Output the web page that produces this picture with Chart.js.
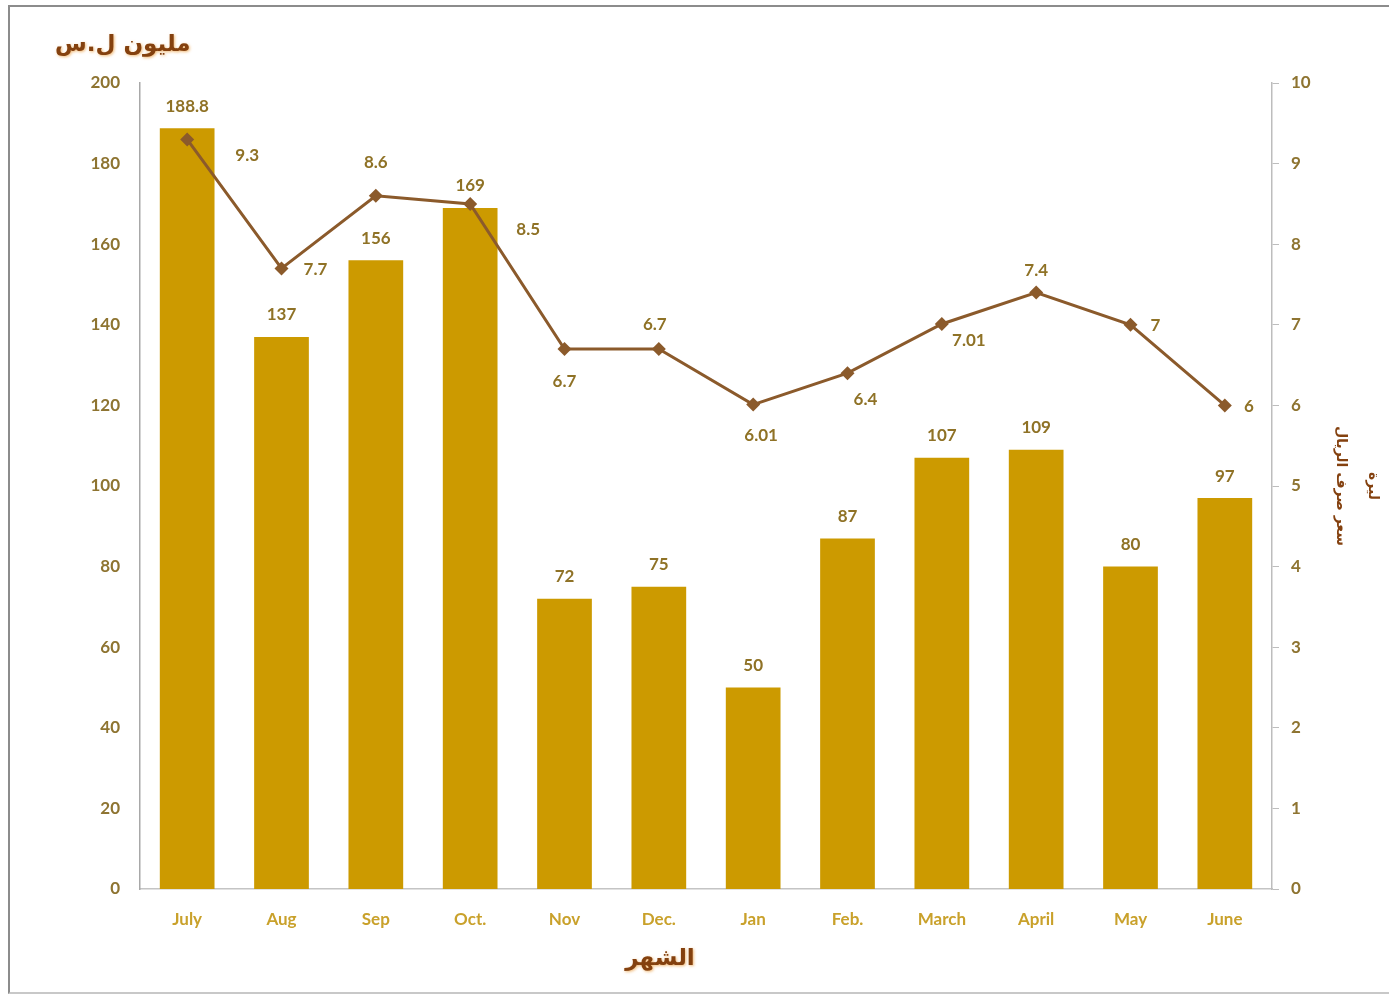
<!DOCTYPE html>
<html lang="ar">
<head>
<meta charset="utf-8">
<title>Monthly values and exchange rate</title>
<script src="https://cdn.jsdelivr.net/npm/chart.js@4.4.1/dist/chart.umd.min.js"></script>
<style>
  html, body { margin: 0; padding: 0; background: #fff; }
  #wrap { position: relative; width: 1389px; height: 994px; }
  #frame {
    position: absolute; left: 8px; top: 5px; width: 1400px; height: 985px;
    border-top: 2px solid #8c8c8c; border-left: 2px solid #8c8c8c; border-bottom: 2px solid #c8c8c8;
    pointer-events: none;
  }
</style>
</head>
<body>
<div id="wrap">
  <canvas id="chart" width="1389" height="994"></canvas>
  <div id="frame"></div>
</div>
<script>
// month labels along the bottom
const MONTHS = ['July', 'Aug', 'Sep', 'Oct.', 'Nov', 'Dec.', 'Jan', 'Feb.', 'March', 'April', 'May', 'June'];

// bars, left axis (million S.P.)
const AMOUNTS = [188.8, 137, 156, 169, 72, 75, 50, 87, 107, 109, 80, 97];

// line, right axis
const RATES = [9.3, 7.7, 8.6, 8.5, 6.7, 6.7, 6.01, 6.4, 7.01, 7.4, 7, 6];

// printed text for the line points (keeps 6.01 / 7.01 as written)
const RATE_TEXT = ['9.3', '7.7', '8.6', '8.5', '6.7', '6.7', '6.01', '6.4', '7.01', '7.4', '7', '6'];

// where each line value sits relative to its marker [dx, dy]
const RATE_LABEL_OFFSET = [
  [60, 16], [34, 1], [0, -33], [58, 26], [0, 33], [-4, -24],
  [8, 31], [18, 26], [27, 17], [0, -22], [25, 1], [24, 1],
];

const TITLE_LEFT = 'مليون ل.س';
const TITLE_BOTTOM = 'الشهر';
const TITLE_RIGHT = ['ليرة', 'سعر صرف الريال'];

const BAR_COLOR = '#cc9a00';
const LINE_COLOR = '#8b5a2b';
const VALUE_COLOR = '#8f7226';
const TICK_COLOR = '#8e7431';
const MONTH_COLOR = '#c9a12b';
const TITLE_COLOR = '#84410f';
const FONT = "Lato, 'Open Sans', sans-serif";
const ARABIC_FONT = "'DejaVu Sans', 'Noto Sans', sans-serif";

// writes the values above bars and next to line markers, plus the two axis captions
const valueLabels = {
  id: 'valueLabels',
  afterDatasetsDraw(chart) {
    const { ctx, chartArea } = chart;
    ctx.save();
    ctx.font = `bold 17px ${FONT}`;
    ctx.fillStyle = VALUE_COLOR;
    ctx.textAlign = 'center';
    ctx.textBaseline = 'middle';

    chart.getDatasetMeta(0).data.forEach((bar, i) => {
      ctx.fillText(String(AMOUNTS[i]), bar.x, bar.y - 22);
    });

    chart.getDatasetMeta(1).data.forEach((pt, i) => {
      const [dx, dy] = RATE_LABEL_OFFSET[i];
      ctx.fillText(RATE_TEXT[i], pt.x + dx, pt.y + dy);
    });

    // captions with a soft orange glow
    ctx.font = `bold 23px ${ARABIC_FONT}`;
    ctx.fillStyle = TITLE_COLOR;
    ctx.shadowColor = 'rgba(235, 160, 70, 0.75)';
    ctx.shadowBlur = 3;
    ctx.shadowOffsetX = 1;
    ctx.shadowOffsetY = 1;
    ctx.textAlign = 'left';
    ctx.fillText(TITLE_LEFT, 55, 45);
    ctx.textAlign = 'center';
    ctx.fillText(TITLE_BOTTOM, (chartArea.left + chartArea.right) / 2 - 46, 959);
    ctx.restore();
  },
};

new Chart(document.getElementById('chart'), {
  data: {
    labels: MONTHS,
    datasets: [
      {
        type: 'bar',
        data: AMOUNTS,
        yAxisID: 'y',
        backgroundColor: BAR_COLOR,
        barPercentage: 0.58,
        categoryPercentage: 1,
        order: 1,
      },
      {
        type: 'line',
        data: RATES,
        yAxisID: 'yRate',
        borderColor: LINE_COLOR,
        backgroundColor: LINE_COLOR,
        borderWidth: 3,
        pointStyle: 'rectRot',
        pointRadius: 7,
        pointBorderWidth: 0,
        tension: 0,
        order: 0,
      },
    ],
  },
  options: {
    responsive: false,
    animation: false,
    layout: { padding: { left: 55, top: 83, right: 0, bottom: 0 } },
    plugins: {
      legend: { display: false },
      tooltip: { enabled: false },
    },
    scales: {
      x: {
        offset: true,
        grid: { display: false, drawTicks: false },
        border: { display: true, color: '#c4c4c4', width: 1.5 },
        ticks: {
          color: MONTH_COLOR,
          padding: 20,
          font: { family: FONT, size: 17, weight: 'bold' },
        },
        afterFit(scale) { scale.height = 105; },
      },
      y: {
        position: 'left',
        min: 0,
        max: 200,
        ticks: {
          stepSize: 20,
          color: TICK_COLOR,
          padding: 20,
          font: { family: FONT, size: 17, weight: 'bold' },
        },
        grid: { display: false, drawTicks: false },
        border: { display: true, color: '#a8a8a8', width: 1.5 },
        afterFit(scale) { scale.width = 85; },
      },
      yRate: {
        position: 'right',
        min: 0,
        max: 10,
        ticks: {
          stepSize: 1,
          color: TICK_COLOR,
          padding: 12,
          font: { family: FONT, size: 17, weight: 'bold' },
        },
        grid: { drawOnChartArea: false, drawTicks: true, tickLength: 7, color: '#bdbdbd' },
        border: { display: true, color: '#bdbdbd', width: 1.5 },
        title: {
          display: true,
          text: TITLE_RIGHT,
          color: TITLE_COLOR,
          font: { family: ARABIC_FONT, size: 14, weight: 'bold', lineHeight: 2.3 },
          padding: { top: 0, bottom: -16 },
        },
        afterFit(scale) { scale.width = 117; },
      },
    },
  },
  plugins: [valueLabels],
});
</script>
</body>
</html>
